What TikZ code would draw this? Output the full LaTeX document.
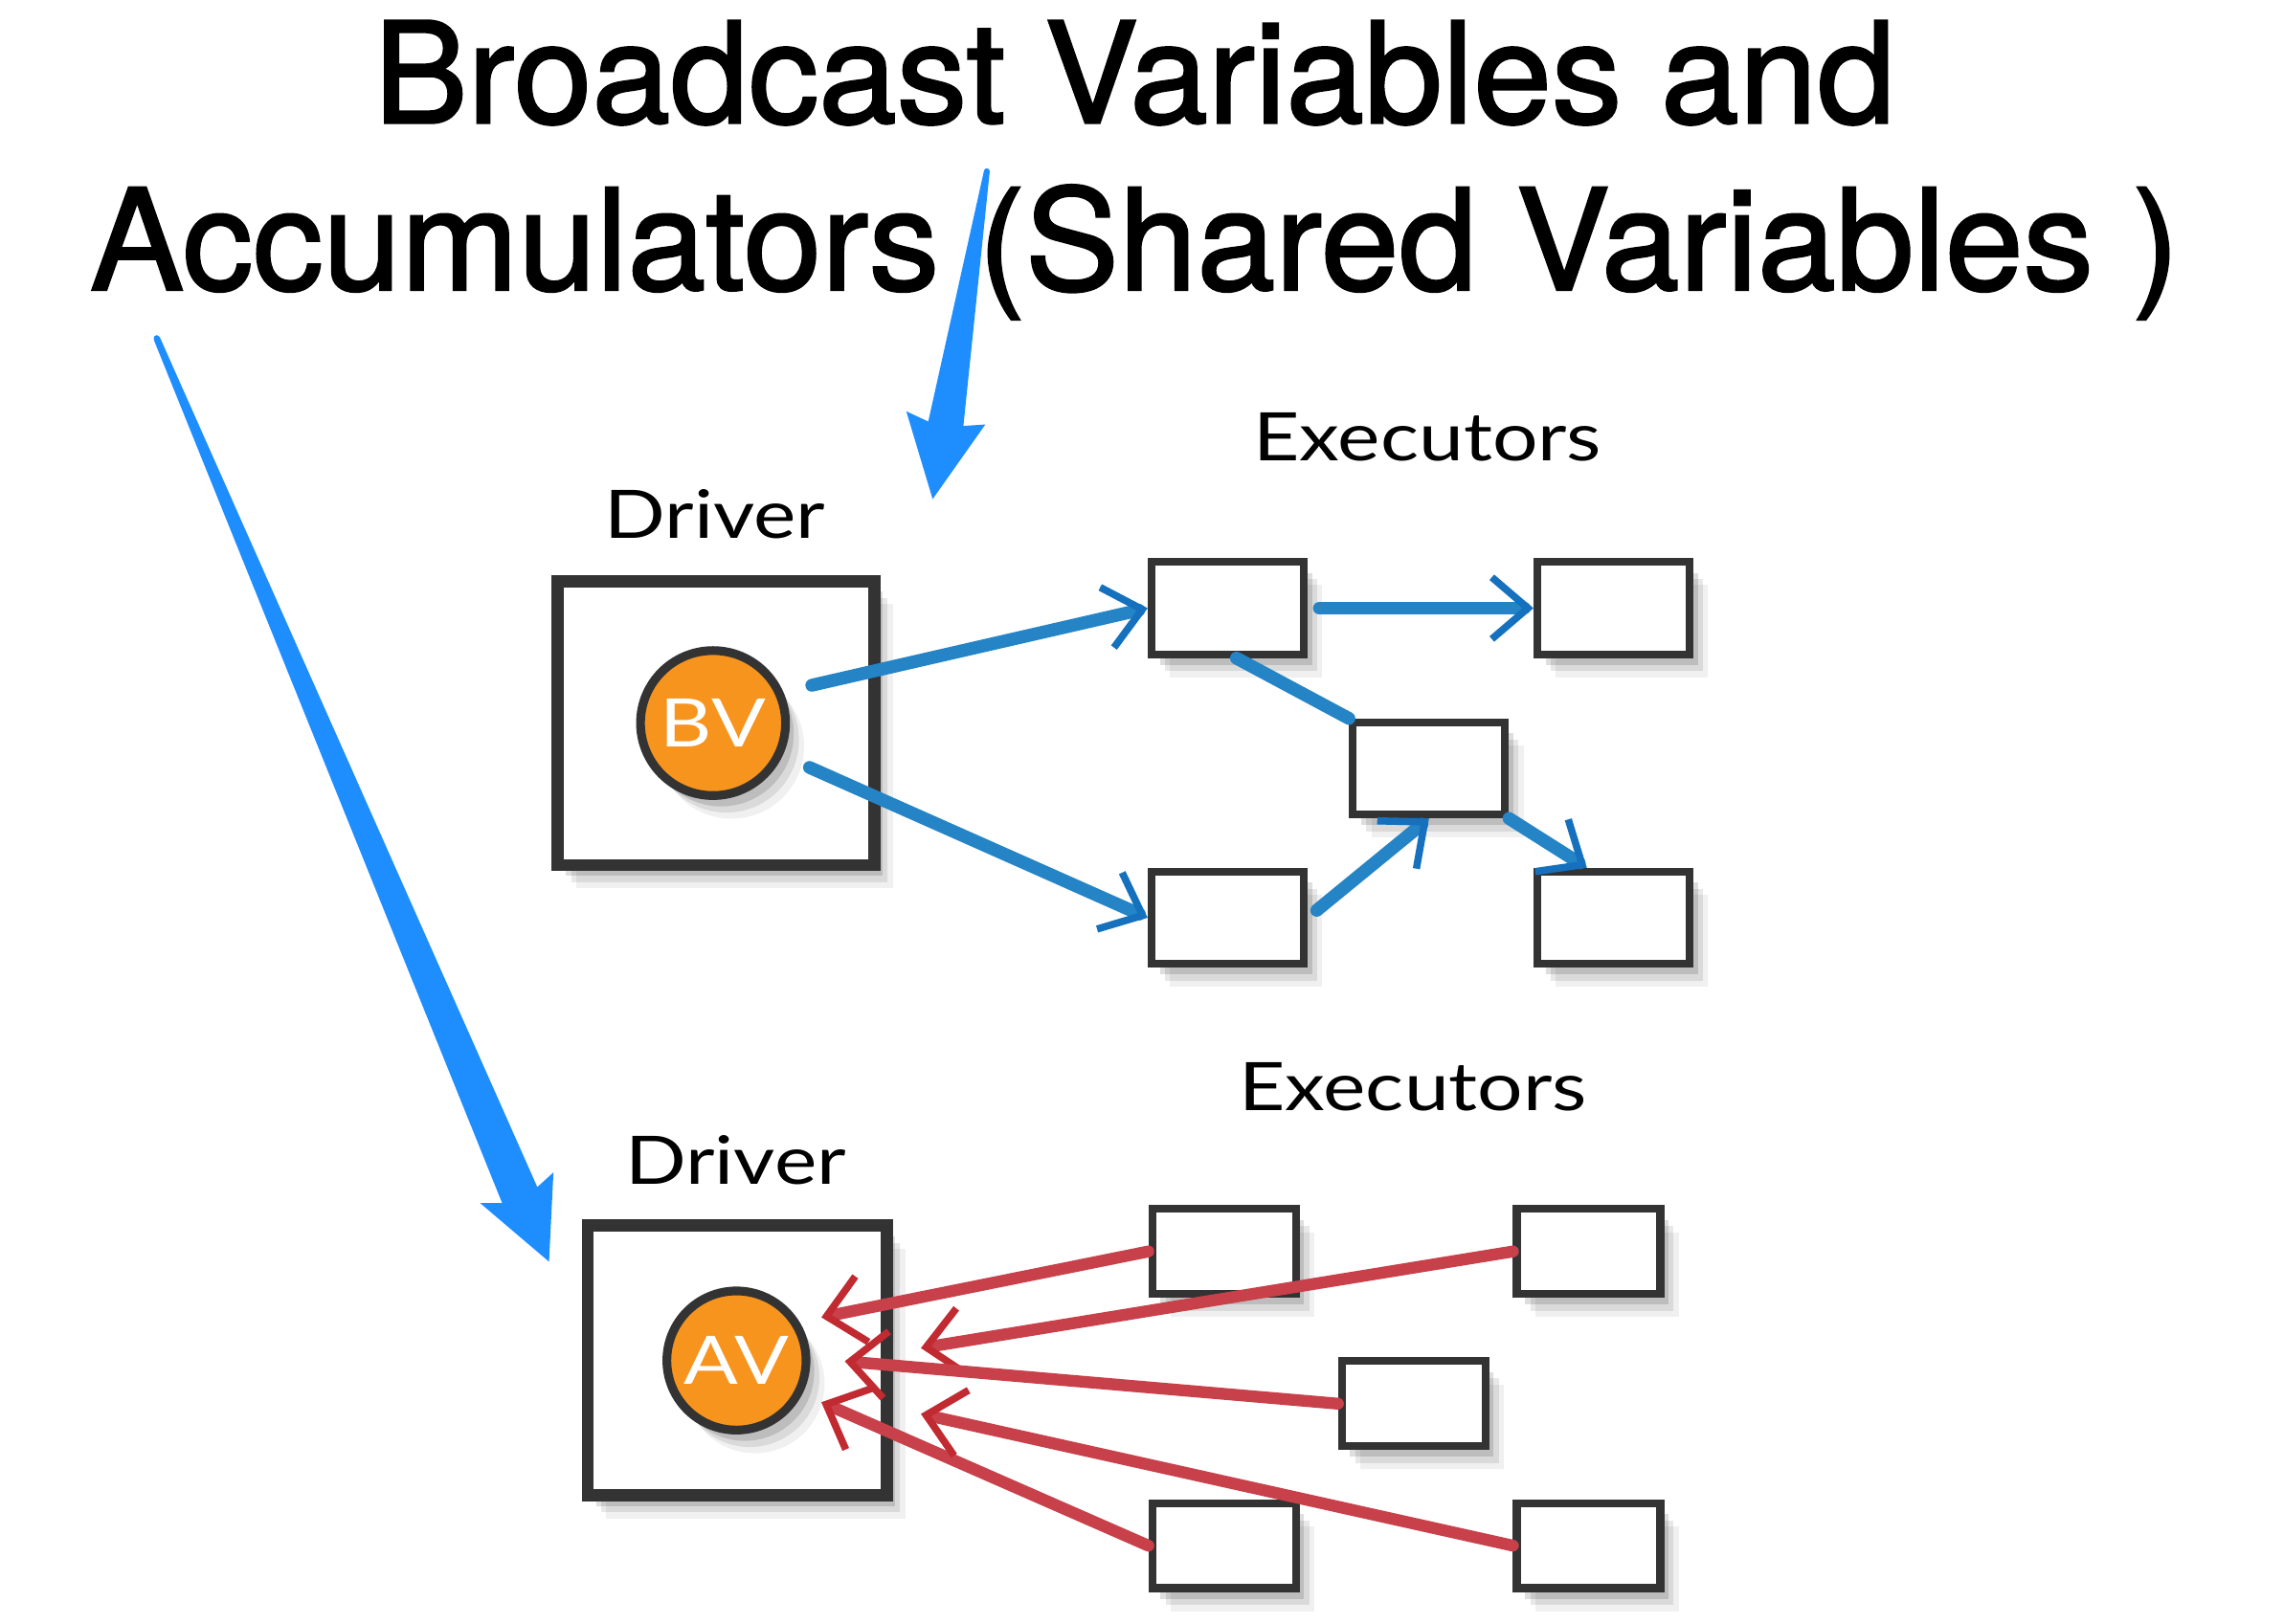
\documentclass[tikz,border=0pt]{standalone}
\usepackage{fontspec}
\usetikzlibrary{arrows.meta,shadows,calc}
\newfontfamily\handfont{Lato}[FakeStretch=1.2]
\newfontfamily\titlefont{TeX Gyre Heros}[FakeBold=1.6]
\definecolor{boxline}{HTML}{333333}
\definecolor{bvorange}{HTML}{F7941E}
\definecolor{bluelink}{HTML}{2484C6}
\definecolor{bluetip}{HTML}{1571BE}
\definecolor{redlink}{HTML}{C8404A}
\definecolor{redtip}{HTML}{C22A31}
\definecolor{bigblue}{HTML}{1E8EFF}
\tikzset{
  softshadow/.style={
    general shadow={shadow xshift=3.6pt, shadow yshift=-4.5pt, opacity=0.06, fill=black},
    general shadow={shadow xshift=2.6pt, shadow yshift=-3.3pt, opacity=0.09, fill=black},
    general shadow={shadow xshift=1.6pt, shadow yshift=-2.1pt, opacity=0.13, fill=black}},
  driverbox/.style={draw=boxline, line width=2.4pt, fill=white, inner sep=0pt, softshadow},
  execbox/.style={draw=boxline, line width=1.5pt, fill=white, inner sep=0pt,
    minimum width=1.04cm, minimum height=0.63cm, softshadow},
  execboxs/.style={execbox, minimum width=0.98cm, minimum height=0.58cm},
  varcircle/.style={circle, draw=boxline, line width=1.7pt, fill=bvorange, text=white,
    inner sep=0pt, softshadow, font=\handfont\fontsize{13pt}{15pt}\selectfont},
  handlabel/.style={anchor=base, inner sep=0pt, font=\handfont\fontsize{13pt}{15pt}\selectfont},
  titletext/.style={anchor=base, inner sep=0pt, font=\titlefont\fontsize{27.3pt}{31pt}\selectfont},
  bluelinkst/.style={draw=bluelink, line width=2.5pt, line cap=round,
    -{Straight Barb[length=7pt, width=12pt, line width=1.4pt, color=bluetip]}},
  bluebare/.style={draw=bluelink, line width=2.5pt, line cap=round},
  redlinkst/.style={draw=redlink, line width=2.3pt, line cap=round,
    -{Straight Barb[length=7pt, width=13pt, line width=1.4pt, color=redtip]}},
  bigarrow/.style={fill=bigblue}
}
\begin{document}
\begin{tikzpicture}[x=0.01cm, y=-0.01cm]
\useasboundingbox (0,0) rectangle (1560,1108.9);
\fill[white] (0,0) rectangle (1560,1108.9);

% title
\node[titletext] (title1) at (775,84) {Broadcast Variables and};
\node[titletext] (title2) at (775,198) {Accumulators (Shared Variables )};

% big blue pointer arrows
\fill[bigarrow] (672,117) -- (634,288) -- (619,281) -- (637,341) -- (673,290) -- (658,291) -- (676,117) -- cycle;
\fill[bigarrow] (674,117) circle (2);
\fill[bigarrow] (105,232) -- (343,822) -- (328,822) -- (375,862) -- (378,801) -- (367,811) -- (109,230) -- cycle;
\fill[bigarrow] (107,231) circle (2);

% ---------- broadcast part ----------
\node[handlabel] (drv1lbl) at (488.5,368) {Driver};
\node[handlabel] (exe1lbl) at (975,314.6) {Executors};
\node[driverbox, minimum width=2.16cm, minimum height=1.94cm] (D1) at (489,494) {};
\node[varcircle, minimum size=0.99cm] (BV) at (487,494) {BV};

\node[execbox] (E1) at (838.5,415.5) {};
\node[execbox] (E2) at (1102,415.5) {};
\node[execbox] (E3) at (976,525) {};
\node[execbox] (E4) at (838.5,627) {};
\node[execbox] (E5) at (1102,627) {};

\draw[bluelinkst, shorten <=0.2cm] (BV.24) -- (E1.west);
\draw[bluelinkst, shorten <=0.2cm] (BV.-25) -- (E4.west);
\draw[bluelinkst, shorten <=0.08cm] (E1.east) -- (E2.west);
\draw[bluebare] (E1.-80) -- (E3.north west);
\draw[bluelinkst, shorten <=0.08cm] (E4.east) -- (E3.south);
\draw[bluelinkst] (E3.south east) -- (E5.118);

% ---------- accumulator part ----------
\node[handlabel] (drv2lbl) at (502.5,809) {Driver};
\node[handlabel] (exe2lbl) at (965,759) {Executors};
\node[driverbox, minimum width=2.04cm, minimum height=1.84cm] (D2) at (503.5,929.5) {};
\node[varcircle, minimum size=0.95cm] (AV) at (503,929.5) {AV};

\node[execboxs] (F1) at (836,855) {};
\node[execboxs] (F2) at (1085,855) {};
\node[execboxs] (F3) at (965.5,959) {};
\node[execboxs] (F4) at (836,1056) {};
\node[execboxs] (F5) at (1085,1056) {};

\coordinate (t1) at (561,900);
\coordinate (t2) at (629,921);
\coordinate (t3) at (577,930);
\coordinate (t4) at (561,958);
\coordinate (t5) at (629,966);

\draw[redlinkst] (F1.west) -- (t1);
\draw[redlinkst] (F2.west) -- (t2);
\draw[redlinkst] (F3.west) -- (t3);
\draw[redlinkst] (F4.west) -- (t4);
\draw[redlinkst] (F5.west) -- (t5);
\end{tikzpicture}
\end{document}
